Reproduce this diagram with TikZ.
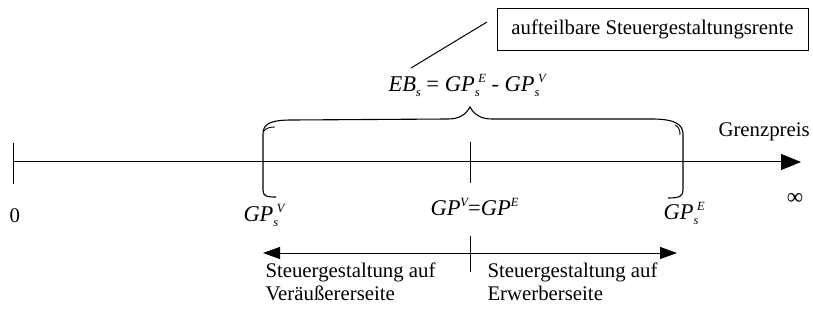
\documentclass[tikz,border=0pt]{standalone}
\usepackage{fontspec}
\setmainfont{Liberation Serif}
\usetikzlibrary{arrows.meta}
\newcommand{\mysub}[1]{\raisebox{-5pt}{\fontsize{12.5}{12.5}\selectfont\itshape #1}}
\newcommand{\mysup}[1]{\raisebox{9pt}{\fontsize{12.5}{12.5}\selectfont\itshape #1}}
\newcommand{\gps}[1]{\textit{GP}\rlap{\mysub{s}}\kern3.5pt\mysup{#1}}
\begin{document}
\begin{tikzpicture}[x=1pt,y=-1pt,
  font=\fontsize{20.8}{23}\selectfont,
  line width=1pt,
  mathfont/.style={font=\fontsize{22.5}{24}\selectfont},
  lbl/.style={inner sep=0pt, anchor=base west},
  tri/.style={-{Triangle[length=20pt,width=16pt]}},
  dbl/.style={{Triangle[length=17pt,width=12pt]}-{Triangle[length=17pt,width=12pt]}},
  boxstyle/.style={draw, line width=0.8pt, minimum width=311pt, minimum height=42pt, inner sep=0pt}]
\useasboundingbox (0,0) rectangle (813,331);

% main axis
\coordinate (a0) at (13,162);
\coordinate (aend) at (801,162);
\draw[tri] (a0) -- (aend);
\draw (13,143) -- (13,184);
\draw (470,142) -- (470,183);

% brace
\draw[line width=1.1pt] (276,197) .. controls (266,197) and (263,196) .. (263,190)
  -- (263,134) .. controls (263,124) and (270,120) .. (292,120)
  -- (448,119) .. controls (460,119) and (466,114) .. (470,107)
  .. controls (474,114) and (480,119) .. (492,119)
  -- (652,119) .. controls (674,119) and (683,124) .. (683,134)
  -- (683,190) .. controls (683,196) and (680,198) .. (668,198);
\draw[line width=0.9pt] (264,131) .. controls (266,128) and (270,127) .. (275,127);
\draw[line width=0.9pt] (680,135) .. controls (680,130) and (679,127) .. (675,125);

% lower double arrow
\coordinate (l0) at (263,253);
\coordinate (l1) at (677,253);
\draw[dbl] (l0) -- (l1);
\draw (470,236) -- (470,272);

% box and leader
\node[boxstyle] (box) at (652.5,29) {aufteilbare Steuergestaltungsrente};
\coordinate (lead0) at (411,68);
\coordinate (lead1) at (487,22);
\draw (lead0) -- (lead1);

% labels
\node[lbl, mathfont] (eq) at (388,92) {\textit{EB}\mysub{s} = \gps{E} - \gps{V}};
\node[lbl] (zero) at (9,222) {0};
\node[lbl] (grenz) at (718,137) {Grenzpreis};
\node[inner sep=0pt, font=\fontsize{23}{23}\selectfont] (inf) at (795,199) {∞};
\node[lbl, mathfont] (gpv) at (243,221) {\gps{V}};
\node[lbl, mathfont] (gpe) at (663,219) {\gps{E}};
\node[lbl, mathfont] (gpeq) at (430,215) {\textit{GP}\mysup{V}=\textit{GP}\mysup{E}};
\node[lbl, align=left, anchor=base west] (left) at (265,300) {Steuergestaltung auf\\Veräußererseite};
\node[lbl, align=left, anchor=base west] (right) at (487,300) {Steuergestaltung auf\\Erwerberseite};
\end{tikzpicture}
\end{document}
